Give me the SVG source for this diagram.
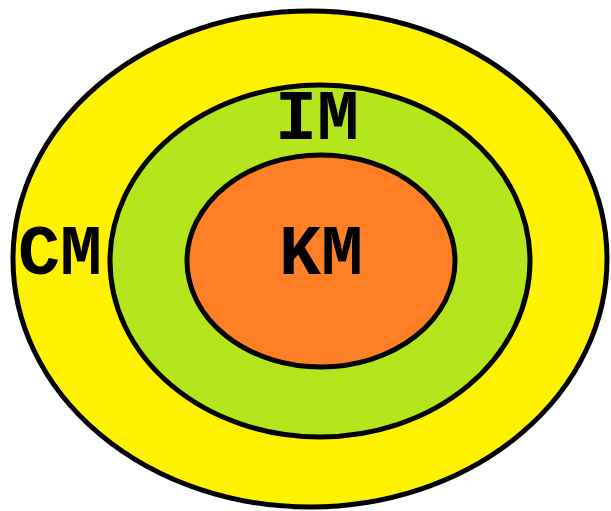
<svg xmlns="http://www.w3.org/2000/svg" width="611" height="511" viewBox="0 0 611 511">
<style>
.ring{stroke:#000;stroke-width:5}
.lbl{font-family:"Liberation Mono","Courier New",monospace;font-weight:bold;font-size:70px;fill:#000;text-anchor:middle}
</style>
<rect width="611" height="511" fill="#fff"/>
<g id="CM">
<ellipse class="ring" cx="310" cy="259" rx="297" ry="248" fill="#fff200"/>
<text class="lbl" x="60" y="274">CM</text>
</g>
<g id="IM">
<ellipse class="ring" cx="320" cy="261" rx="210" ry="176" fill="#b5e61d"/>
<text class="lbl" x="317" y="139">IM</text>
</g>
<g id="KM">
<ellipse class="ring" cx="321" cy="261" rx="134" ry="106" fill="#ff7f27"/>
<text class="lbl" x="321" y="274">KM</text>
</g>
<g id="connectors"/>
</svg>
